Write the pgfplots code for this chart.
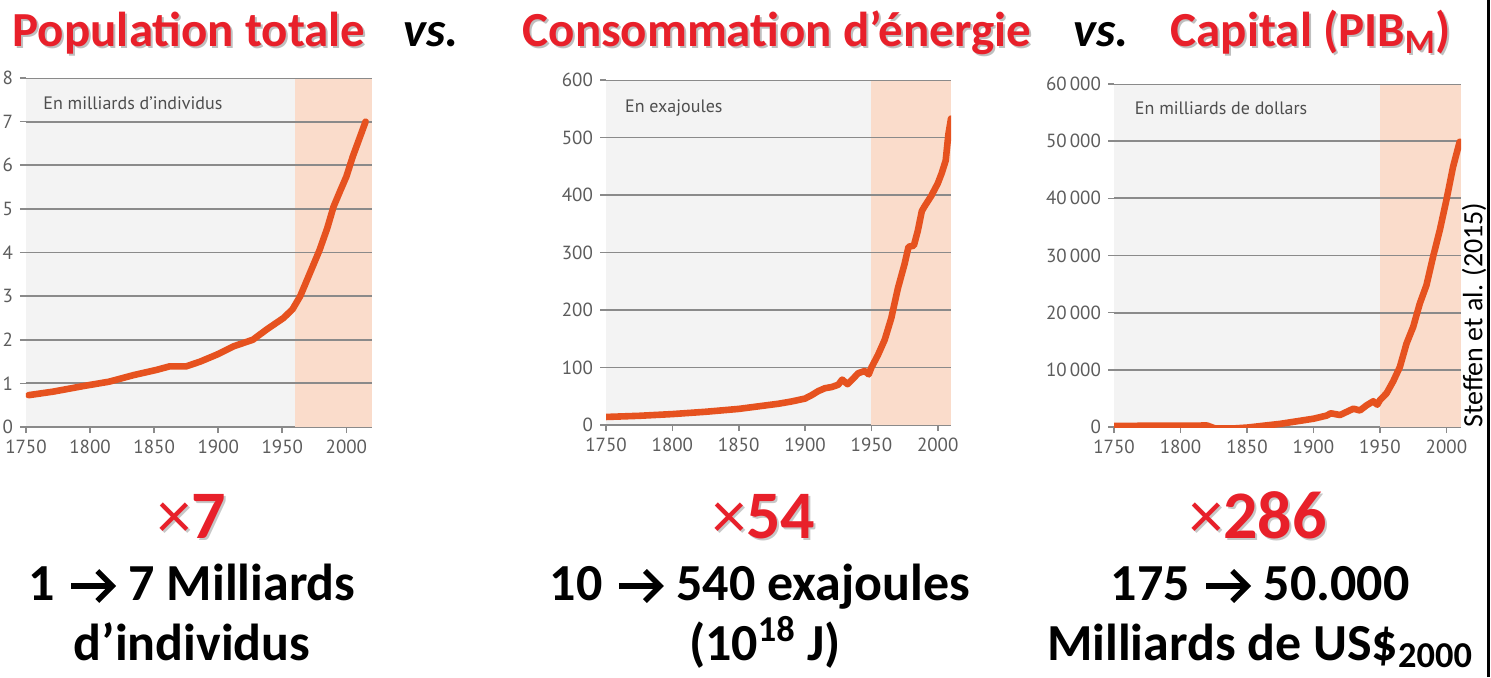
\documentclass[border=0pt]{standalone}
\usepackage{pgfplots}
\pgfplotsset{compat=1.18}
\usepackage{fontspec}
\setmainfont{Carlito}
\newfontfamily\tickfont{PT Sans}
\definecolor{bgc}{HTML}{F3F3F3}
\definecolor{peach}{HTML}{FADCCB}
\definecolor{gridc}{HTML}{8A8A8A}
\definecolor{linec}{HTML}{E6521F}
\definecolor{titred}{HTML}{E8202A}
\definecolor{tickc}{HTML}{5C5C5C}
\newsavebox\arrbox
\newcommand{\arr}{\hspace{1pt}\usebox\arrbox\hspace{1pt}}
\pgfplotsset{
  base/.style={
    scale only axis, anchor=south west,
    axis x line=bottom, axis y line=left,
    y axis line style={draw=none},
    x axis line style={draw=gridc, line width=0.9pt, -},
    tick align=outside,
    major tick length=3pt,
    tick style={draw=gridc, line width=0.8pt},
    axis background/.style={fill=bgc},
    tick label style={font=\tickfont\fontsize{9.5}{10}\selectfont, text=tickc},
    /pgf/number format/assume math mode=true,
    xtick={1750,1800,...,2000},
    x tick label style={/pgf/number format/1000 sep={}},
    xmin=1750,
  },
  curve/.style={draw=linec, line width=3.3pt, line join=round, line cap=round, no marks},
  shade/.style={fill=peach, draw=none, forget plot},
  gl/.style={draw=gridc, line width=0.9pt, forget plot, no marks},
}
\tikzset{inlab/.style={anchor=west, font=\tickfont\fontsize{9}{10}\selectfont, text=tickc!85!black}}
\begin{document}
\sbox\arrbox{\tikz[baseline={(0,-7pt)}, line width=2.7pt]{\draw (0,0) -- (20pt,0); \draw[line join=miter, miter limit=10] (13pt,7.5pt) -- (20.5pt,0) -- (13pt,-7.5pt);}}%
\begin{tikzpicture}
\path[use as bounding box] (0,0) rectangle (745.5pt,338.5pt);

% ---------- Chart 1: population ----------
\begin{axis}[base, at={(13pt,125pt)}, width=173pt, height=174.5pt,
  xmax=2020, ymin=0, ymax=8, ytick={0,1,...,8}]
\addplot[shade] coordinates {(1960,0) (2020,0) (2020,8) (1960,8)} -- cycle;
\pgfplotsinvokeforeach{1,2,3,4,5,6,7,8}{\addplot[gl] coordinates {(1750,#1) (2020,#1)};}
\addplot[curve] table {
1752 0.73
1771 0.81
1795 0.94
1815 1.04
1834 1.19
1852 1.31
1862 1.39
1875 1.39
1886 1.50
1899 1.66
1912 1.85
1927 2.00
1938 2.24
1951 2.50
1958 2.70
1964 3.00
1969 3.35
1974 3.70
1979 4.05
1985 4.55
1990 5.05
1995 5.40
2000 5.74
2005 6.20
2010 6.60
2015 7.00
};
\node[inlab] at (rel axis cs:0.03,0.928) {En milliards d’individus};
\end{axis}

% ---------- Chart 2: energy ----------
\begin{axis}[base, at={(303pt,126pt)}, width=172.5pt, height=172.5pt,
  xmax=2010, ymin=0, ymax=600, ytick={0,100,...,600}]
\addplot[shade] coordinates {(1950,0) (2010,0) (2010,600) (1950,600)} -- cycle;
\pgfplotsinvokeforeach{100,200,300,400,500,600}{\addplot[gl] coordinates {(1750,#1) (2010,#1)};}
\addplot[curve] table {
1750 14
1775 16
1800 19
1825 23
1850 28
1870 34
1880 37
1890 41
1900 46
1905 52
1910 59
1915 64
1920 66
1925 70
1928 79
1932 71
1936 80
1940 90
1945 94
1948 88
1950 100
1955 122
1960 148
1965 186
1970 238
1975 280
1978 310
1982 312
1985 338
1988 372
1990 380
1995 398
2000 420
2003 438
2006 460
2008 505
2010 533
};
\node[inlab] at (rel axis cs:0.035,0.92) {En exajoules};
\end{axis}

% ---------- Chart 3: capital ----------
\begin{axis}[base, at={(557pt,125pt)}, width=173.5pt, height=171.5pt,
  xmax=2011, ymin=0, ymax=60000, ytick={0,10000,...,60000},
  scaled y ticks=false,
  y tick label style={/pgf/number format/1000 sep={\,}}]
\addplot[shade] coordinates {(1950,0) (2011,0) (2011,60000) (1950,60000)} -- cycle;
\pgfplotsinvokeforeach{10000,20000,30000,40000,50000,60000}{\addplot[gl] coordinates {(1750,#1) (2011,#1)};}
\addplot[curve] table {
1750 200
1780 220
1800 240
1820 260
1826 -250
1840 -250
1850 -100
1875 550
1900 1450
1910 2000
1913 2400
1920 2100
1930 3200
1935 2900
1940 3800
1945 4500
1948 3900
1950 4700
1955 5900
1960 8000
1965 10500
1970 14600
1975 17500
1980 21600
1985 24800
1990 29800
1995 34400
2000 39700
2005 45500
2010 49900
};
\node[inlab] at (rel axis cs:0.04,0.93) {En milliards de dollars};
\end{axis}

\begin{scope}[x=0.5pt,y=0.5pt]
% ---------- Titles ----------
\begin{scope}[every node/.style={anchor=base, inner sep=0pt}]
\foreach \x/\t in {189/{Population totale}, 777/{Consommation d’énergie}, 1311/{Capital (PIB\textsubscript{M})}}{
  \node[text=black!25, font=\bfseries\fontsize{24.5}{28}\selectfont] at (\x+2,629) {\t};
  \node[text=titred, font=\bfseries\fontsize{24.5}{28}\selectfont] at (\x,631) {\t};
}
\node[font=\bfseries\itshape\fontsize{24.5}{28}\selectfont] at (431,631) {vs.};
\node[font=\bfseries\itshape\fontsize{24.5}{28}\selectfont] at (1101,631) {vs.};

% big red factors
\foreach \x/\t in {192/{7}, 764/{54}, 1258/{286}}{
  \node[text=black!22, font=\bfseries\fontsize{34}{38}\selectfont] at (\x+2,137) {{\mdseries ×}\t};
  \node[text=titred, font=\bfseries\fontsize{34}{38}\selectfont] at (\x,139) {{\mdseries ×}\t};
}

% captions
\node[font=\bfseries\fontsize{26}{30}\selectfont] at (192,77) {1 \arr{} 7 Milliards};
\node[font=\bfseries\fontsize{26}{30}\selectfont] at (192,17) {d’individus};
\node[font=\bfseries\fontsize{26}{30}\selectfont] at (760,77) {10 \arr{} 540 exajoules};
\node[font=\bfseries\fontsize{26}{30}\selectfont] at (765,17) {(10\textsuperscript{18} J)};
\node[font=\bfseries\fontsize{26}{30}\selectfont] at (1260,77) {175 \arr{} 50.000};
\node[font=\bfseries\fontsize{26}{30}\selectfont] at (1260,17) {Milliards de US\$\textsubscript{2000}};
\end{scope}

\node[rotate=90, inner sep=0pt, font=\fontsize{14}{16}\selectfont] at (1474,362) {Steffen et al. (2015)};
\draw[line width=1.5pt] (1488,0) -- (1488,677);
\end{scope}
\end{tikzpicture}
\end{document}
